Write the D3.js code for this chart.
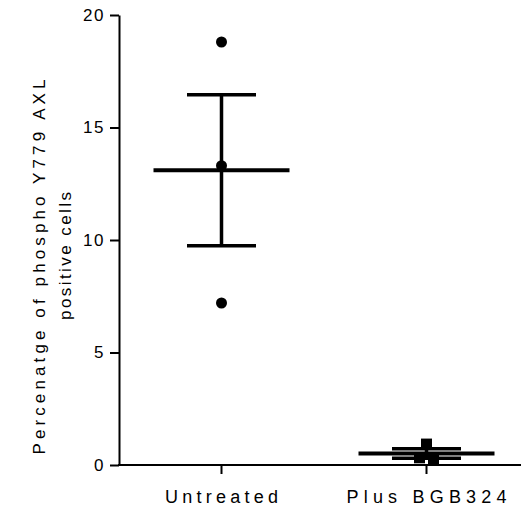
<!DOCTYPE html>
<html>
<head>
<meta charset="utf-8">
<script src="https://cdn.jsdelivr.net/npm/d3@7"></script>
<style>
  html, body { margin: 0; padding: 0; background: #fff; }
  svg { display: block; }
  text { font-family: "Liberation Sans", Arial, sans-serif; fill: #000; }
</style>
</head>
<body>
<svg id="chart" width="526" height="509"></svg>
<script>
// ---- data ----
const categories = ["Untreated", "Plus BGB324"];
const untreatedValues = [18.8, 13.3, 7.2];
const bgbValues = [0.93, 0.32, 0.27];
const yTicks = [0, 5, 10, 15, 20];
const yTitleLines = ["Percenatge of phospho Y779 AXL", "positive cells"];

// ---- layout ----
const plotLeft = 119, plotRight = 529, plotTop = 15, plotBottom = 465;
const svg = d3.select("#chart");

const x = d3.scaleBand().domain(categories).range([plotLeft, plotRight]);
const y = d3.scaleLinear().domain([0, 20]).range([plotBottom, plotTop]);
const cx = c => x(c) + x.bandwidth() / 2;

const groups = [
  { cat: categories[0], values: untreatedValues, shape: "circle", jitter: [0, 0, 0] },
  { cat: categories[1], values: bgbValues, shape: "square", jitter: [0, -7, 7] }
];

// y axis
const yAxis = svg.append("g").attr("transform", `translate(${plotLeft},0)`)
  .call(d3.axisLeft(y).tickValues(yTicks).tickSize(9).tickSizeOuter(0).tickPadding(5));
yAxis.select(".domain").attr("stroke", "#000").attr("stroke-width", 2);
yAxis.selectAll(".tick line").attr("stroke", "#000").attr("stroke-width", 2);
yAxis.selectAll(".tick text").attr("font-size", 17).attr("letter-spacing", 1.5)
  .style("font-family", "'Liberation Sans', Arial, sans-serif");

// x axis
const xAxisG = svg.append("g").attr("transform", `translate(0,${plotBottom})`);
xAxisG.append("line").attr("x1", plotLeft - 1).attr("x2", 521).attr("y1", 0).attr("y2", 0)
  .attr("stroke", "#000").attr("stroke-width", 2);
xAxisG.selectAll("line.tk").data(categories).join("line").attr("class", "tk")
  .attr("x1", d => cx(d)).attr("x2", d => cx(d)).attr("y1", 0).attr("y2", 9)
  .attr("stroke", "#000").attr("stroke-width", 2);
const xLabelLen = { "Untreated": 113, "Plus BGB324": 160 };
xAxisG.selectAll("text").data(categories).join("text")
  .attr("x", d => cx(d) - xLabelLen[d] / 2)
  .attr("y", 38)
  .attr("font-size", 18)
  .attr("textLength", d => xLabelLen[d])
  .attr("lengthAdjust", "spacing")
  .text(d => d);

// y title
const titleLen = [375, 128];
const titleCenter = [267, 256];
const titleX = [45, 71];
yTitleLines.forEach((t, i) => {
  svg.append("text")
    .attr("transform", `translate(${titleX[i]},${titleCenter[i] + titleLen[i] / 2}) rotate(-90)`)
    .attr("font-size", 17)
    .attr("textLength", titleLen[i])
    .attr("lengthAdjust", "spacing")
    .text(t);
});

// points + mean/SEM
groups.forEach(g => {
  const c = cx(g.cat);
  const m = d3.mean(g.values);
  const sem = d3.deviation(g.values) / Math.sqrt(g.values.length);

  svg.append("line").attr("x1", c).attr("x2", c)
    .attr("y1", y(m + sem)).attr("y2", y(m - sem))
    .attr("stroke", "#000").attr("stroke-width", 3.5);
  [m + sem, m - sem].forEach(v => {
    svg.append("line").attr("x1", c - 34.5).attr("x2", c + 34.5)
      .attr("y1", y(v)).attr("y2", y(v))
      .attr("stroke", "#000").attr("stroke-width", 3.5);
  });

  g.values.forEach((v, i) => {
    const px = c + g.jitter[i], py = y(v);
    if (g.shape === "circle") {
      svg.append("circle").attr("cx", px).attr("cy", py).attr("r", 5.5).attr("fill", "#000");
    } else {
      svg.append("rect").attr("x", px - 5.5).attr("y", py - 5.5)
        .attr("width", 11).attr("height", 11).attr("fill", "#000");
    }
  });

  svg.append("line").attr("x1", c - 68).attr("x2", c + 68)
    .attr("y1", y(m)).attr("y2", y(m))
    .attr("stroke", "#000").attr("stroke-width", 4);
});
</script>
</body>
</html>
